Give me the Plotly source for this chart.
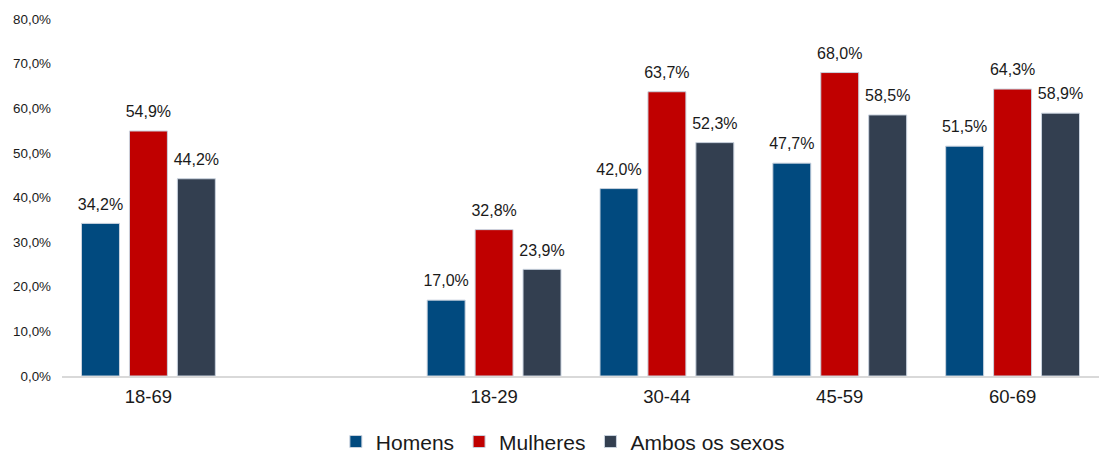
import plotly.graph_objects as go

categories = ["18-69", " ", "18-29", "30-44", "45-59", "60-69"]
homens = [34.2, None, 17.0, 42.0, 47.7, 51.5]
mulheres = [54.9, None, 32.8, 63.7, 68.0, 64.3]
ambos = [44.2, None, 23.9, 52.3, 58.5, 58.9]

series = [
    ("Homens", homens, "#014A7F"),
    ("Mulheres", mulheres, "#C00000"),
    ("Ambos os sexos", ambos, "#333F50"),
]

FONT = "Liberation Sans, Arial, sans-serif"
fig = go.Figure()
for i, (name, vals, color) in enumerate(series):
    fig.add_trace(go.Bar(
        x=categories, y=vals, name=name, offsetgroup=str(i),
        marker=dict(color=color, line=dict(color="#C9D2DE", width=1)),
    ))
for i, (name, vals, color) in enumerate(series):
    fig.add_trace(go.Scatter(
        x=categories, y=vals, offsetgroup=str(i), mode="markers+text",
        marker=dict(size=14, opacity=0), showlegend=False, hoverinfo="skip",
        texttemplate="%{y:.1f}%", textposition="top center",
        textfont=dict(size=16, color="#1a1a1a", family=FONT),
        cliponaxis=False,
    ))

# page body has an 8px margin, so the figure is drawn 8px smaller and offset
fig.update_layout(
    width=1110, height=445,
    margin=dict(l=54, r=19, t=11, b=77, autoexpand=False),
    paper_bgcolor="white", plot_bgcolor="white",
    separators=",.",
    barmode="group", scattermode="group", bargap=0.168, bargroupgap=0.208,
    font=dict(family=FONT, color="#1a1a1a"),
    showlegend=True,
    legend=dict(orientation="h", x=0.483, xanchor="center", yref="container",
                y=0.025, yanchor="middle",
                font=dict(size=21, color="#1a1a1a"), itemwidth=30,
                traceorder="normal"),
    xaxis=dict(type="category", showline=True, linecolor="#D9D9D9", linewidth=2,
               ticks="", tickfont=dict(size=18.5, color="#1a1a1a"), showgrid=False,
               automargin=False, ticklabelstandoff=3),
    yaxis=dict(range=[0, 80], dtick=10, tickformat=".1f", ticksuffix="%",
               showgrid=False, zeroline=False, showline=False, automargin=False,
               ticklabelstandoff=10,
               tickfont=dict(size=13.4, color="#1a1a1a")),
)

fig.write_html("out.html")
